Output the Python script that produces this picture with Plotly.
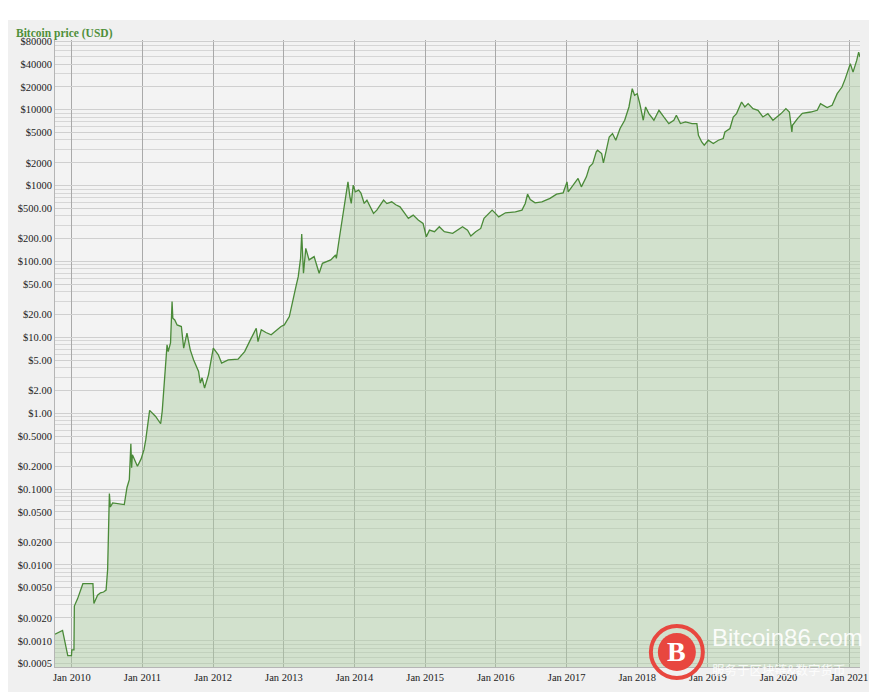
import plotly.graph_objects as go

# price readings (USD) taken off the reference chart
dates = [
    "2009-10-06", "2009-11-09", "2009-11-14", "2009-12-11", "2009-12-30",
    "2010-01-01", "2010-01-12", "2010-01-14", "2010-01-31", "2010-02-27",
    "2010-04-20", "2010-04-25", "2010-05-14", "2010-05-29", "2010-06-14",
    "2010-06-27", "2010-07-05", "2010-07-14", "2010-07-19", "2010-07-31",
    "2010-08-24", "2010-09-29", "2010-10-13", "2010-10-25", "2010-11-02",
    "2010-11-06", "2010-11-10", "2010-11-24", "2010-12-06", "2010-12-25",
    "2011-01-09", "2011-01-18", "2011-01-30", "2011-02-07", "2011-03-10",
    "2011-04-05", "2011-04-13", "2011-04-30", "2011-05-08", "2011-05-14",
    "2011-05-26", "2011-06-03", "2011-06-07", "2011-06-17", "2011-06-29",
    "2011-07-21", "2011-08-02", "2011-08-19", "2011-09-05", "2011-09-22",
    "2011-10-18", "2011-10-27", "2011-11-05", "2011-11-18", "2011-12-08",
    "2012-01-02", "2012-01-19", "2012-01-28", "2012-02-14", "2012-03-19",
    "2012-05-09", "2012-06-12", "2012-07-09", "2012-08-11", "2012-08-20",
    "2012-09-06", "2012-09-30", "2012-10-27", "2012-12-17", "2013-01-03",
    "2013-01-29", "2013-02-15", "2013-03-04", "2013-03-16", "2013-03-28",
    "2013-04-03", "2013-04-12", "2013-04-24", "2013-05-11", "2013-06-06",
    "2013-07-02", "2013-07-19", "2013-08-31", "2013-09-25", "2013-09-29",
    "2013-10-13", "2013-10-30", "2013-11-15", "2013-11-28", "2013-12-08",
    "2013-12-15", "2013-12-25", "2014-01-05", "2014-01-22", "2014-02-03",
    "2014-02-20", "2014-03-06", "2014-03-21", "2014-04-09", "2014-04-26",
    "2014-05-31", "2014-06-17", "2014-07-12", "2014-08-02", "2014-08-24",
    "2014-09-12", "2014-10-06", "2014-10-31", "2014-11-26", "2014-12-21",
    "2015-01-07", "2015-01-23", "2015-02-18", "2015-03-15", "2015-04-10",
    "2015-05-23", "2015-06-18", "2015-07-13", "2015-08-08", "2015-08-25",
    "2015-09-19", "2015-10-15", "2015-11-01", "2015-11-26", "2015-12-13",
    "2015-12-30", "2016-01-16", "2016-02-20", "2016-04-11", "2016-05-15",
    "2016-06-01", "2016-06-13", "2016-06-27", "2016-07-22", "2016-08-26",
    "2016-10-07", "2016-11-10", "2016-12-14", "2017-01-03", "2017-01-09",
    "2017-02-12", "2017-03-01", "2017-03-18", "2017-04-13", "2017-04-29",
    "2017-05-16", "2017-06-03", "2017-06-10", "2017-07-01", "2017-07-10",
    "2017-07-23", "2017-08-09", "2017-08-26", "2017-09-12", "2017-10-04",
    "2017-10-28", "2017-11-19", "2017-12-06", "2017-12-18", "2018-01-01",
    "2018-01-14", "2018-02-01", "2018-02-13", "2018-03-02", "2018-03-28",
    "2018-04-23", "2018-05-18", "2018-06-13", "2018-07-09", "2018-07-22",
    "2018-08-12", "2018-09-07", "2018-10-11", "2018-11-05", "2018-11-13",
    "2018-11-30", "2018-12-13", "2019-01-03", "2019-01-29", "2019-02-24",
    "2019-03-21", "2019-03-30", "2019-04-25", "2019-05-12", "2019-05-29",
    "2019-06-24", "2019-07-11", "2019-07-28", "2019-08-22", "2019-09-17",
    "2019-10-12", "2019-11-07", "2019-12-03", "2020-01-14", "2020-02-08",
    "2020-02-26", "2020-03-10", "2020-03-13", "2020-04-08", "2020-05-03",
    "2020-06-15", "2020-07-19", "2020-08-05", "2020-09-08", "2020-10-04",
    "2020-10-30", "2020-11-24", "2020-12-11", "2021-01-06", "2021-01-20",
    "2021-02-08", "2021-02-18", "2021-02-25",
]
prices = [
    0.00122, 0.00137, 0.00137, 0.00064, 0.00064,
    0.00076, 0.00076, 0.00287, 0.0036, 0.00566,
    0.00566, 0.00311, 0.0040, 0.0043, 0.0044,
    0.00466, 0.00873, 0.0873, 0.058, 0.0658,
    0.064, 0.0625, 0.105, 0.133, 0.397,
    0.192, 0.284, 0.24, 0.20, 0.25,
    0.331, 0.448, 0.75, 1.09, 0.908,
    0.727, 1.06, 4.13, 7.96, 6.5,
    8.47, 29.6, 17.9, 17.0, 14.6,
    13.9, 7.21, 11.4, 6.85, 5.06,
    3.55, 2.5, 2.93, 2.15, 3.21,
    7.21, 6.2, 5.89, 4.58, 5.06,
    5.17, 6.5, 9.0, 13.2, 8.81,
    12.6, 11.6, 10.8, 13.9, 14.6,
    18.8, 31.1, 46.6, 63.1, 110,
    230, 70, 149, 105, 116,
    70, 94.7, 105, 122, 110,
    192, 352, 645, 1122, 713,
    583, 1016, 829, 873, 800,
    583, 645, 540, 431, 476,
    645, 580, 612, 560, 526,
    450, 370, 409, 352, 318,
    212, 259, 247, 287, 247,
    235, 259, 287, 259, 217,
    247, 273, 370, 431, 476,
    431, 388, 439, 452, 476,
    583, 773, 658, 594, 612,
    679, 773, 804, 1122, 829,
    1069, 1245, 964, 1306, 1767,
    1959, 2784, 2933, 2653, 2000,
    2784, 4385, 4861, 3970, 5660,
    7280, 10890, 19000, 15530, 16330,
    12070, 7280, 10890, 8910, 7280,
    9840, 8040, 6580, 7280, 8470,
    6580, 6910, 6580, 6580, 4610,
    3770, 3410, 3970, 3590, 3970,
    4180, 5100, 5660, 8040, 8910,
    12670, 10890, 12070, 10370, 9840,
    8040, 8910, 7280, 8910, 10370,
    9350, 5100, 6250, 7660, 9000,
    9350, 9840, 12070, 10690, 11460,
    16330, 19950, 25760, 40550, 31400,
    44800, 57650, 49500,
]

y_ticks = [80000, 40000, 20000, 10000, 5000, 2000, 1000, 500, 200, 100, 50, 20,
           10, 5, 2, 1, 0.5, 0.2, 0.1, 0.05, 0.02, 0.01, 0.005, 0.002, 0.001, 0.0005]
y_labels = ["$80000", "$40000", "$20000", "$10000", "$5000", "$2000", "$1000",
            "$500.00", "$200.00", "$100.00", "$50.00", "$20.00", "$10.00", "$5.00",
            "$2.00", "$1.00", "$0.5000", "$0.2000", "$0.1000", "$0.0500", "$0.0200",
            "$0.0100", "$0.0050", "$0.0020", "$0.0010", "$0.0005"]
years = list(range(2010, 2022))
x_ticks = [f"{y}-01-01" for y in years]
x_labels = [f"Jan {y}" for y in years]

SERIF = "Liberation Serif, Times New Roman, serif"

fig = go.Figure()
fig.add_trace(go.Scatter(
    x=dates, y=prices, mode="lines",
    line=dict(color="#4a8a38", width=1.3),
    fill="tozeroy", fillcolor="rgba(170,205,160,0.45)",
    hoverinfo="x+y",
))

fig.update_layout(
    width=869, height=684,
    margin=dict(l=47, r=9, t=32, b=25),
    paper_bgcolor="#f0f0f0",
    plot_bgcolor="#f3f3f3",
    showlegend=False,
    font=dict(family=SERIF, size=10.5, color="#222"),
    xaxis=dict(
        range=["2009-10-06", "2021-02-25"],
        tickmode="array", tickvals=x_ticks, ticktext=x_labels,
        showgrid=True, gridcolor="#a9a9a9", gridwidth=1,
        showline=True, linecolor="#b5b5b5", ticks="",
        tickfont=dict(family=SERIF, size=10.5, color="#222"),
        zeroline=False,
    ),
    yaxis=dict(
        type="log", range=[-3.345, 4.92],
        tickmode="array", tickvals=y_ticks, ticktext=y_labels,
        showgrid=True, gridcolor="#cfcfcf", gridwidth=1,
        minor=dict(dtick="D1", showgrid=True, gridcolor="#d6d6d6", ticks=""),
        showline=True, linecolor="#b5b5b5", ticks="",
        tickfont=dict(family=SERIF, size=10.5, color="#222"),
        zeroline=False,
    ),
    shapes=[
        # white strip above the grey panel
        dict(type="rect", xref="paper", yref="paper", x0=-0.1, x1=1.02,
             y0=1.0319, y1=1.06, fillcolor="white", line_width=0, layer="below"),
        # watermark logo
        dict(type="circle", xref="paper", yref="paper", xsizemode="pixel",
             ysizemode="pixel", xanchor=0.7725, yanchor=0.024,
             x0=-19, x1=19, y0=-19, y1=19, fillcolor="#e8473f", line_width=0),
        dict(type="circle", xref="paper", yref="paper", xsizemode="pixel",
             ysizemode="pixel", xanchor=0.7725, yanchor=0.024,
             x0=-26, x1=26, y0=-26, y1=26, line=dict(color="#e8473f", width=4)),
    ],
    annotations=[
        dict(text="<b>Bitcoin price (USD)</b>", xref="paper", yref="paper",
             x=-0.0504, y=1.011, xanchor="left", yanchor="middle", showarrow=False,
             font=dict(family=SERIF, size=11.5, color="#4f8f3a")),
        dict(text="<b>B</b>", xref="paper", yref="paper", x=0.7725, y=0.024,
             xanchor="center", yanchor="middle", showarrow=False,
             font=dict(family=SERIF, size=28, color="white")),
        dict(text="Bitcoin86.com", xref="paper", yref="paper", x=0.814, y=0.047,
             xanchor="left", yanchor="middle", showarrow=False,
             font=dict(family="Liberation Sans, Arial, sans-serif", size=24,
                       color="rgba(255,255,255,0.92)")),
        dict(text="服务于区块链&数字货币", xref="paper", yref="paper", x=0.814, y=-0.004,
             xanchor="left", yanchor="middle", showarrow=False,
             font=dict(family="Noto Sans CJK SC", size=12.5,
                       color="rgba(255,255,255,0.85)")),
    ],
)

fig.write_html("out.html")
